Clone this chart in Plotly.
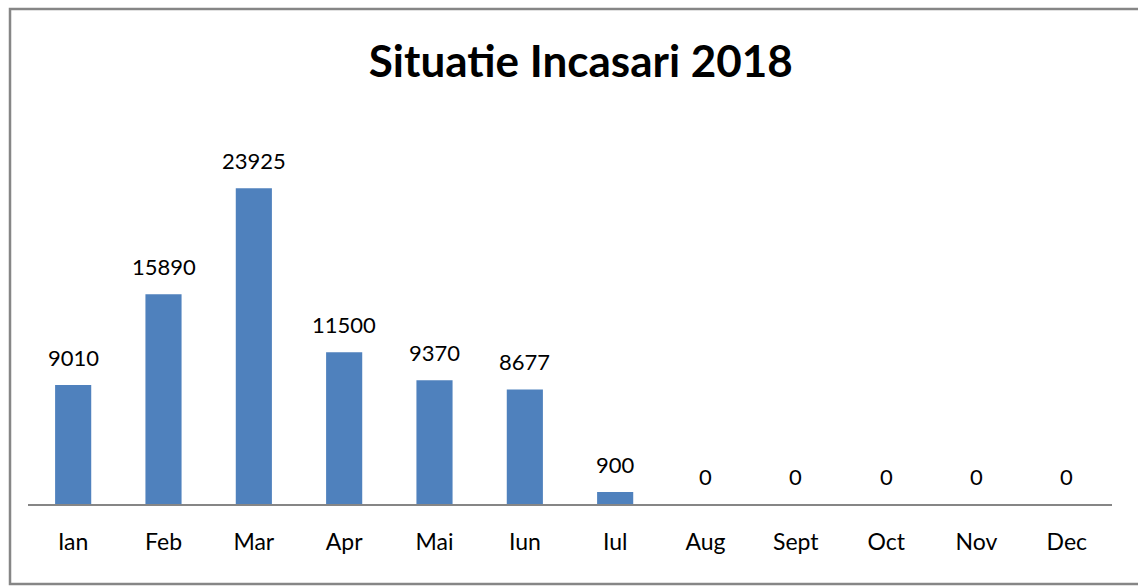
import plotly.graph_objects as go

# Data
months = ['Ian', 'Feb', 'Mar', 'Apr', 'Mai', 'Iun', 'Iul', 'Aug', 'Sept', 'Oct', 'Nov', 'Dec']
incasari = [9010, 15890, 23925, 11500, 9370, 8677, 900, 0, 0, 0, 0, 0]

BAR_COLOR = '#4F81BD'
FONT = 'Lato, Open Sans, sans-serif'

fig = go.Figure(go.Bar(
    x=months,
    y=incasari,
    marker=dict(color=BAR_COLOR, line=dict(width=0)),
    hoverinfo='x+y'
))

# value labels above bars
for m, v in zip(months, incasari):
    fig.add_annotation(
        x=m, y=v, text=str(v), showarrow=False,
        yanchor='bottom', yshift=12,
        font=dict(family=FONT, size=22, color='black')
    )

# outer chart border like the Excel chart frame
fig.add_shape(
    type='rect', xref='paper', yref='paper',
    x0=-0.0166, x1=1.03, y0=-0.202, y1=1.25,
    line=dict(color='#868686', width=2.5),
    fillcolor='rgba(0,0,0,0)', layer='below'
)

fig.update_layout(
    width=1138, height=586,
    margin=dict(l=28, r=26, t=108, b=82),
    paper_bgcolor='white', plot_bgcolor='white',
    title=dict(
        text='<b>Situatie Incasari 2018</b>',
        x=0.51, xref='paper', xanchor='center',
        y=1 - 62 / 586, yref='container', yanchor='middle',
        font=dict(family=FONT, size=44, color='black')
    ),
    bargap=0.6,
    showlegend=False,
    xaxis=dict(
        showline=True, linecolor='#868686', linewidth=2,
        showgrid=False, ticks='', ticklabelstandoff=16,
        tickfont=dict(family=FONT, size=23, color='black')
    ),
    yaxis=dict(
        range=[0, 30000], visible=False, showgrid=False, zeroline=False
    ),
)

# drop the default body margin so the figure sits at the window's top-left
fig.write_html(
    'out.html',
    config={'displayModeBar': False},
    post_script="document.body.style.margin='0';"
)
